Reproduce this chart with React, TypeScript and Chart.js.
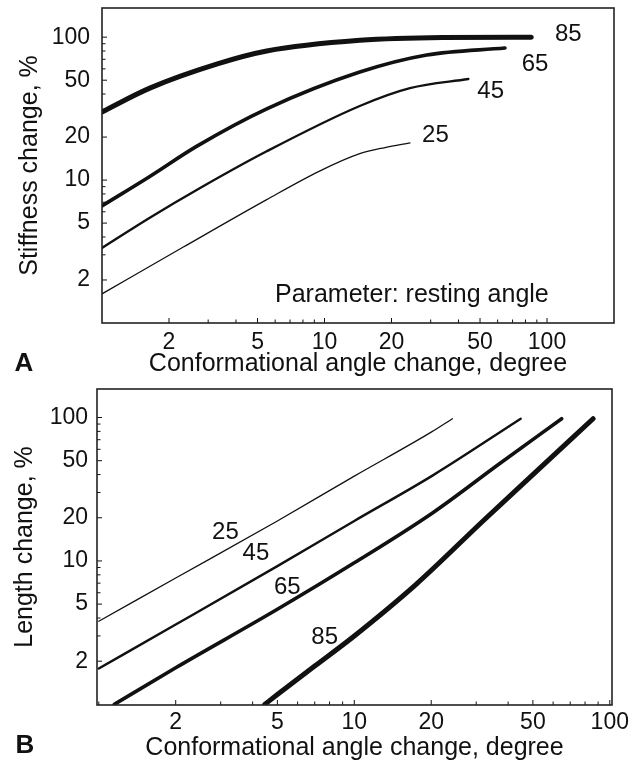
import React, { useEffect, useRef } from 'react';
import { Chart, registerables } from 'chart.js';

Chart.register(...registerables);

const FONT = "'Liberation Sans', Arial, Helvetica, sans-serif";
const INK = '#111111';

// ---------- Panel A: stiffness change ----------
const a85X = [1, 1.64, 3.3, 5.5, 14.4, 34, 85];
const a85Y = [30, 44, 65, 80, 95, 99.5, 100];
const a65X = [1, 1.64, 2.66, 5.5, 14.4, 28.8, 64.7];
const a65Y = [6.6, 10.6, 17.2, 31.5, 57, 75, 84];
const a45X = [1, 1.64, 2.76, 5.5, 14.4, 24.2, 44.3];
const a45Y = [3.35, 5.45, 8.8, 15.9, 33, 44, 51];
const a25X = [1, 2.32, 5.5, 9.55, 14.4, 18.7, 24.2];
const a25Y = [1.6, 3.4, 7.3, 11.6, 15.3, 16.9, 18.2];

// ---------- Panel B: length change ----------
const b25X = [1, 2, 5, 10, 20, 24.2];
const b25Y = [3.8, 7.6, 19, 39, 79, 98];
const b45X = [1, 2, 5, 10, 20.3, 44.8];
const b45Y = [1.78, 3.6, 9.2, 19, 39.5, 98];
const b65X = [1.15, 2, 5, 10, 20.3, 37.1, 64.8];
const b65Y = [1, 1.8, 4.6, 9.7, 21.7, 47.8, 98];
const b85X = [4.46, 5, 7, 10, 17.5, 31.9, 50, 86];
const b85Y = [1, 1.17, 1.85, 3.0, 6.9, 19, 40, 98];

const restingAngles = ['85', '65', '45', '25'];
const lineWidths = [5, 3.6, 2.4, 1.3];

// ---------- Axes ----------
const tickValues = [1, 2, 3, 4, 5, 6, 7, 8, 9, 10, 20, 30, 40, 50, 60, 70, 80, 90, 100, 200];
const labeledTicks = [2, 5, 10, 20, 50, 100];

const xTitle = 'Conformational angle change, degree';
const yTitleA = 'Stiffness change, %';
const yTitleB = 'Length change, %';
const paramText = 'Parameter: resting angle';

function pts(xs: number[], ys: number[]) {
  return xs.map((x, i) => ({ x, y: ys[i] }));
}

type Note = { text: string; x: number; y: number; size: number };

function decorPlugin(notes: Note[], letter: string, letterPos: [number, number]) {
  return {
    id: 'decor',
    afterDraw(chart: any) {
      const { ctx, chartArea } = chart;
      const { left, top, right, bottom } = chartArea;
      const xs = chart.scales.x;
      const ys = chart.scales.y;
      ctx.save();
      ctx.strokeStyle = INK;
      ctx.lineWidth = 1;
      ctx.beginPath();
      xs.ticks.forEach((t: any) => {
        const p = xs.getPixelForValue(t.value);
        if (p <= left + 1 || p >= right - 1) return;
        const len = labeledTicks.includes(t.value) ? 5 : 3.5;
        ctx.moveTo(p, bottom);
        ctx.lineTo(p, bottom - len);
      });
      ys.ticks.forEach((t: any) => {
        const p = ys.getPixelForValue(t.value);
        if (p <= top + 1 || p >= bottom - 1) return;
        const len = labeledTicks.includes(t.value) ? 5 : 3.5;
        ctx.moveTo(left, p);
        ctx.lineTo(left + len, p);
      });
      ctx.stroke();
      ctx.lineWidth = 1.6;
      ctx.strokeStyle = '#222';
      ctx.strokeRect(left, top, right - left, bottom - top);

      ctx.fillStyle = INK;
      ctx.textAlign = 'center';
      ctx.textBaseline = 'middle';
      notes.forEach((n) => {
        ctx.font = `${n.size}px ${FONT}`;
        ctx.fillText(n.text, xs.getPixelForValue(n.x), ys.getPixelForValue(n.y));
      });
      ctx.font = `bold 26px ${FONT}`;
      ctx.fillText(letter, letterPos[0], letterPos[1]);
      ctx.restore();
    },
  };
}

function makeConfig(opts: {
  series: { x: number[]; y: number[] }[];
  xMin: number;
  xMax: number;
  yMin: number;
  yMax: number;
  yTitle: string;
  padTop: number;
  padRight: number;
  yWidth: number;
  xHeight: number;
  yTickPad: number;
  xTickPad: number;
  xTitlePad: number;
  yTitlePad: number;
  notes: Note[];
  letter: string;
  letterPos: [number, number];
}) {
  const setTicks = (scale: any) => {
    scale.ticks = tickValues
      .filter((v) => v >= scale.min - 1e-9 && v <= scale.max + 1e-9)
      .map((v) => ({ value: v }));
  };
  const labelOf = (v: any) => (labeledTicks.includes(Number(v)) ? String(v) : '');
  return {
    type: 'line' as const,
    data: {
      datasets: opts.series.map((s, i) => ({
        label: restingAngles[i],
        data: pts(s.x, s.y),
        borderColor: INK,
        borderWidth: lineWidths[i],
        pointRadius: 0,
        fill: false,
        cubicInterpolationMode: 'monotone' as const,
        borderCapStyle: 'round' as const,
        borderJoinStyle: 'round' as const,
      })),
    },
    options: {
      animation: false as const,
      responsive: false,
      maintainAspectRatio: false,
      devicePixelRatio: 1,
      layout: { padding: { top: opts.padTop, right: opts.padRight, bottom: 0, left: 0 } },
      plugins: { legend: { display: false }, tooltip: { enabled: false } },
      scales: {
        x: {
          type: 'logarithmic' as const,
          min: opts.xMin,
          max: opts.xMax,
          afterBuildTicks: setTicks,
          afterFit: (s: any) => {
            s.height = opts.xHeight;
            s.paddingLeft = 0;
            s.paddingRight = 0;
            s.paddingTop = 0;
            s.paddingBottom = 0;
          },
          grid: { display: false, drawTicks: false, tickLength: 0 },
          border: { display: false },
          ticks: {
            autoSkip: false,
            maxRotation: 0,
            minRotation: 0,
            padding: opts.xTickPad,
            color: INK,
            font: { family: FONT, size: 23 },
            callback: labelOf,
          },
          title: {
            display: true,
            text: xTitle,
            color: INK,
            font: { family: FONT, size: 25 },
            padding: { top: 0, bottom: opts.xTitlePad },
          },
        },
        y: {
          type: 'logarithmic' as const,
          min: opts.yMin,
          max: opts.yMax,
          afterBuildTicks: setTicks,
          afterFit: (s: any) => {
            s.width = opts.yWidth;
            s.paddingLeft = 0;
            s.paddingRight = 0;
            s.paddingTop = 0;
            s.paddingBottom = 0;
          },
          grid: { display: false, drawTicks: false, tickLength: 0 },
          border: { display: false },
          ticks: {
            autoSkip: false,
            padding: opts.yTickPad,
            color: INK,
            font: { family: FONT, size: 23 },
            callback: labelOf,
          },
          title: {
            display: true,
            text: opts.yTitle,
            color: INK,
            font: { family: FONT, size: 25 },
            padding: { top: opts.yTitlePad, bottom: 0 },
          },
        },
      },
    },
    plugins: [decorPlugin(opts.notes, opts.letter, opts.letterPos)],
  };
}

export default function App() {
  const refA = useRef<HTMLCanvasElement | null>(null);
  const refB = useRef<HTMLCanvasElement | null>(null);

  useEffect(() => {
    const chartA = new Chart(
      refA.current as HTMLCanvasElement,
      makeConfig({
        series: [
          { x: a85X, y: a85Y },
          { x: a65X, y: a65Y },
          { x: a45X, y: a45Y },
          { x: a25X, y: a25Y },
        ],
        xMin: 1,
        xMax: 200,
        yMin: 1,
        yMax: 160,
        yTitle: yTitleA,
        padTop: 8,
        padRight: 25,
        yWidth: 102,
        xHeight: 57,
        yTickPad: 12,
        xTickPad: 5.5,
        xTitlePad: 1,
        yTitlePad: 15.5,
        notes: [
          { text: restingAngles[0], x: 124.7, y: 103.8, size: 24 },
          { text: restingAngles[1], x: 88.3, y: 64.7, size: 24 },
          { text: restingAngles[2], x: 55.8, y: 41.7, size: 24 },
          { text: restingAngles[3], x: 31.5, y: 20.5, size: 24 },
          { text: paramText, x: 24.7, y: 1.57, size: 25 },
        ],
        letter: 'A',
        letterPos: [24, 364],
      }) as any
    );
    const chartB = new Chart(
      refB.current as HTMLCanvasElement,
      makeConfig({
        series: [
          { x: b85X, y: b85Y },
          { x: b65X, y: b65Y },
          { x: b45X, y: b45Y },
          { x: b25X, y: b25Y },
        ],
        xMin: 0.984,
        xMax: 102,
        yMin: 0.99,
        yMax: 158,
        yTitle: yTitleB,
        padTop: 9,
        padRight: 27,
        yWidth: 97,
        xHeight: 59,
        yTickPad: 9,
        xTickPad: 3.5,
        xTitlePad: 0.5,
        yTitlePad: 10.5,
        notes: [
          { text: restingAngles[3], x: 3.13, y: 15.7, size: 24 },
          { text: restingAngles[2], x: 4.12, y: 11.2, size: 24 },
          { text: restingAngles[1], x: 5.47, y: 6.58, size: 24 },
          { text: restingAngles[0], x: 7.66, y: 2.92, size: 24 },
        ],
        letter: 'B',
        letterPos: [25, 366],
      }) as any
    );
    return () => {
      chartA.destroy();
      chartB.destroy();
    };
  }, []);

  return (
    <div style={{ position: 'absolute', left: 0, top: 0, width: 639, height: 764, background: '#fff' }}>
      <canvas ref={refA} width={639} height={380} style={{ display: 'block', width: 639, height: 380 }} />
      <canvas ref={refB} width={639} height={384} style={{ display: 'block', width: 639, height: 384 }} />
    </div>
  );
}
